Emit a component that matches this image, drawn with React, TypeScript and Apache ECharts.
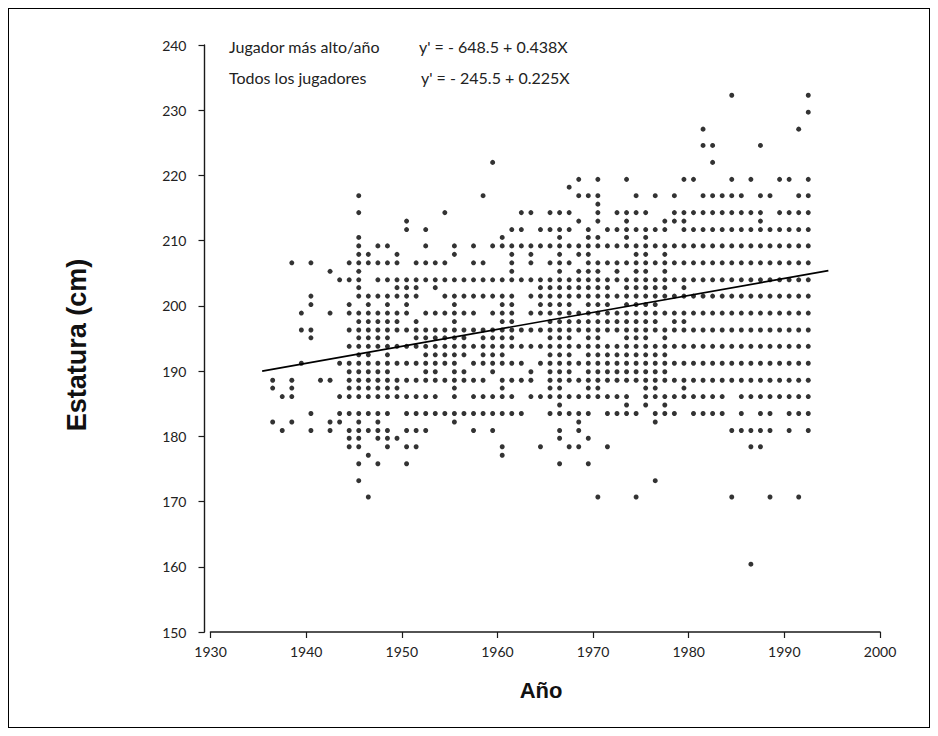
import React, { useEffect, useRef } from "react";
import * as echarts from "echarts";

// Seasons (columns of dots), one per year
const SEASONS = [
  1936, 1937, 1938, 1939,
  1940, 1941, 1942, 1943, 1944, 1945, 1946, 1947, 1948, 1949,
  1950, 1951, 1952, 1953, 1954, 1955, 1956, 1957, 1958, 1959,
  1960, 1961, 1962, 1963, 1964, 1965, 1966, 1967, 1968, 1969,
  1970, 1971, 1972, 1973, 1974, 1975, 1976, 1977, 1978, 1979,
  1980, 1981, 1982, 1983, 1984, 1985, 1986, 1987, 1988, 1989,
  1990, 1991, 1992,
];
// dots sit in the middle of each season
const SEASON_MID = 0.5;

// Heights (cm) of the rows of dots, top to bottom
const ROW_HEIGHTS = [
  232.3, 229.7, 227.1, 224.6, 222.0, 219.4, 218.2, 216.9, 215.6, 214.3,
  213.0, 211.7, 210.5, 209.2, 207.9, 206.6, 205.3, 204.0, 202.8, 201.5,
  200.2, 198.9, 197.6, 196.3, 195.1, 193.8, 192.5, 191.2, 189.9, 188.6,
  187.4, 186.1, 184.8, 183.5, 182.2, 180.9, 179.7, 178.4, 177.1, 175.8,
  173.2, 170.7, 160.4,
];

// Which seasons have a player at each row height ("x" = dot).
// Groups: 1936-39 | 1940s | 1950s | 1960s | 1970s | 1980s | 1990-92
const ROW_MASKS = [
  "....|..........|..........|..........|..........|....x.....|..x",
  "....|..........|..........|..........|..........|..........|..x",
  "....|..........|..........|..........|..........|.x........|.x.",
  "....|..........|..........|..........|..........|.xx....x..|...",
  "....|..........|.........x|..........|..........|..x.......|...",
  "....|..........|..........|........x.|x..x.....x|x...x.x..x|x.x",
  "....|..........|..........|.......x..|..........|..........|...",
  "....|.....x....|........x.|........xx|x...x.x.x.|.xxxxx.xx.|.xx",
  "....|..........|..........|..........|x.........|..........|...",
  "....|.....x....|....x.....|..xx.xxx..|x.xxxx..xx|xxxxxxxx.x|xxx",
  "....|..........|x.........|........x.|x..x...xxx|.......x..|...",
  "....|..........|x.x.......|.xx.xxxx.x|.xxxxxxx.x|xxxxxxxxxx|xxx",
  "....|.....x....|..........|x.....x..x|x..x.x....|..........|...",
  "....|.....x.xx.|..x..x.x.x|xxxxxxxxxx|xxxxxxxxxx|xxxxxxxxxx|xxx",
  "....|.....xx..x|.....x....|.x.x..x.xx|....xx.x..|..........|...",
  "..x.|x...xxxxxx|.xxxx..xx.|.x.x.xxx.x|xxxxxxxxxx|xxxxxxxxxx|xxx",
  "....|..x..x....|..........|.x....x.xx|x.x.xx.x..|..........|...",
  "....|...xxx.xxx|xxxxxxxxxx|xxxxxxxxxx|xxxxxxxxxx|xxxxxxxxxx|xxx",
  "....|.....x...x|xx.x......|....xxxxxx|xx.xxxxx.x|..........|...",
  "....|x....xxxxx|xx..xxxxxx|xx.xxxxxxx|xxxxxxxxxx|xxxxxxxxxx|xxx",
  "....|x...x.x.x.|x....x....|xx..xxxx.x|xx.xxxx...|..........|...",
  "...x|..x.xxxxxx|x.xxxxxx.x|xx.xxxxxxx|xxxxxxxxxx|xxxxxxxxxx|xxx",
  "....|.....xxxxx|.x...x....|xx...xxxxx|xxxxxxx.xx|..........|...",
  "...x|x...xxxxxx|xxxxxxxxxx|xxxxxxxxxx|xxxxxxxxxx|xxxxxxxxxx|xxx",
  "....|x....xxxx.|.xxxxxx.xx|xx...xxx.x|x..xxx.x..|..........|...",
  "....|....xxxxxx|xxxxxxxxxx|xxxxxxxxxx|xxxxxxxxxx|xxxxxxxxxx|xxx",
  "....|.....xx.x.|..xxxxx.xx|x....xxx.x|xxxxxxxx..|..........|...",
  "...x|...xxxxxxx|xxxxxx.xxx|xxx.xxxxxx|xxxxxxxxxx|xxxxxxxxxx|xxx",
  "....|....xxxxx.|..xx.xx..x|...x.xxx.x|xxxxxxxx..|..........|...",
  "x.x.|.xx.xxxxxx|xxxxxxxxx.|xxxx.xxxxx|xxxxxxxxxx|xxxxxxxxxx|xxx",
  "x.x.|....xxxxxx|.....x....|x....xx..x|x....xx..x|..........|...",
  ".xx.|...xxxxxxx|xxxx.x.xxx|xx.xxxxxxx|xxxx.xxxxx|xxxx.xxxxx|xxx",
  "....|..........|..........|......x...|...x.x.x..|..........|...",
  "....|x..xxxxxx.|xxxxxxxxxx|xxx..xxxxx|.xxxx.xxx.|xxxx.x.xx.|xxx",
  "x.x.|..xx.x.x..|.....x....|........x.|......x...|..........|...",
  ".x..|x.x.xxxxx.|xxx....x.x|......x.x.|..........|....xxxxx.|x.x",
  "....|....xx.xxx|..........|......x..x|..........|..........|...",
  "....|....xx..x.|xx........|x...x..xx.|.x........|......xx..|...",
  "....|......x...|..........|x.........|..........|..........|...",
  "....|.....x.x..|x.........|......x..x|..........|..........|...",
  "....|.....x....|..........|..........|......x...|..........|...",
  "....|......x...|..........|..........|x...x.....|....x...x.|.x.",
  "....|..........|..........|..........|..........|......x...|...",
];

// Fitted line (end points)
const LINE_YEARS = [1935.4, 1994.6];
const LINE_HEIGHTS = [190.0, 205.4];

const EQ_NAMES = ["Jugador más alto/año", "Todos los jugadores"];
const EQ_FORMULAS = ["y' = - 648.5 + 0.438X", "y' = - 245.5 + 0.225X"];

const X_TITLE = "Año";
const Y_TITLE = "Estatura (cm)";

export default function App() {
  const ref = useRef<HTMLDivElement | null>(null);

  useEffect(() => {
    if (!ref.current) return;
    const chart = echarts.init(ref.current, undefined, { renderer: "svg" });

    const points: number[][] = [];
    ROW_MASKS.forEach((mask, i) => {
      const cells = mask.replace(/\|/g, "");
      for (let p = 0; p < cells.length; p++) {
        if (cells[p] === "x") points.push([SEASONS[p] + SEASON_MID, ROW_HEIGHTS[i]]);
      }
    });

    const lineData = LINE_YEARS.map((x, i) => [x, LINE_HEIGHTS[i]]);
    const tickFont = "Lato";
    const eqFont = '16px "Lato"';

    chart.setOption({
      animation: false,
      backgroundColor: "#ffffff",
      grid: { left: 201.5, right: 49, top: 36, bottom: 95 },
      xAxis: {
        type: "value",
        min: 1930,
        max: 2000,
        interval: 10,
        axisLine: { show: true, lineStyle: { color: "#1a1a1a", width: 1.6 } },
        axisTick: { show: true, length: 6, lineStyle: { color: "#1a1a1a", width: 1.2 } },
        axisLabel: {
          color: "#222",
          fontFamily: tickFont,
          fontSize: 14,
          margin: 12,
          formatter: (v: number) => String(v),
        },
        splitLine: { show: false },
      },
      yAxis: {
        type: "value",
        min: 150,
        max: 240,
        interval: 10,
        offset: 6,
        axisLine: { show: true, lineStyle: { color: "#1a1a1a", width: 1.4 } },
        axisTick: { show: true, length: 6, lineStyle: { color: "#1a1a1a", width: 1.2 } },
        axisLabel: {
          color: "#222",
          fontFamily: tickFont,
          fontSize: 14,
          margin: 18,
        },
        splitLine: { show: false },
      },
      series: [
        {
          type: "scatter",
          data: points,
          symbol: "circle",
          symbolSize: 5,
          itemStyle: { color: "#000" },
          silent: true,
        },
        {
          type: "line",
          data: lineData,
          symbol: "none",
          lineStyle: { color: "#000", width: 1.7 },
          silent: true,
        },
      ],
      graphic: [
        {
          type: "text",
          x: 220,
          y: 37,
          style: {
            text: EQ_NAMES[0],
            fill: "#222",
            font: eqFont,
            textAlign: "left",
            textVerticalAlign: "middle",
          },
        },
        {
          type: "text",
          x: 410,
          y: 37,
          style: {
            text: EQ_FORMULAS[0],
            fill: "#222",
            font: eqFont,
            textAlign: "left",
            textVerticalAlign: "middle",
          },
        },
        {
          type: "text",
          x: 220,
          y: 68,
          style: {
            text: EQ_NAMES[1],
            fill: "#222",
            font: eqFont,
            textAlign: "left",
            textVerticalAlign: "middle",
          },
        },
        {
          type: "text",
          x: 412,
          y: 68,
          style: {
            text: EQ_FORMULAS[1],
            fill: "#222",
            font: eqFont,
            textAlign: "left",
            textVerticalAlign: "middle",
          },
        },
        {
          type: "text",
          x: 68,
          y: 336,
          rotation: Math.PI / 2,
          style: {
            text: Y_TITLE,
            fill: "#111",
            font: 'bold 27px "Liberation Sans"',
            textAlign: "center",
            textVerticalAlign: "middle",
          },
        },
        {
          type: "text",
          x: 532,
          y: 681,
          style: {
            text: X_TITLE,
            fill: "#111",
            font: 'bold 22px "Liberation Sans"',
            textAlign: "center",
            textVerticalAlign: "middle",
          },
        },
      ],
    });

    return () => chart.dispose();
  }, []);

  return (
    <div
      style={{
        width: 922,
        height: 720,
        border: "1px solid #000",
        boxSizing: "border-box",
        position: "relative",
        background: "#fff",
      }}
    >
      <div ref={ref} style={{ position: "absolute", left: 0, top: 0, width: 920, height: 718 }} />
    </div>
  );
}
